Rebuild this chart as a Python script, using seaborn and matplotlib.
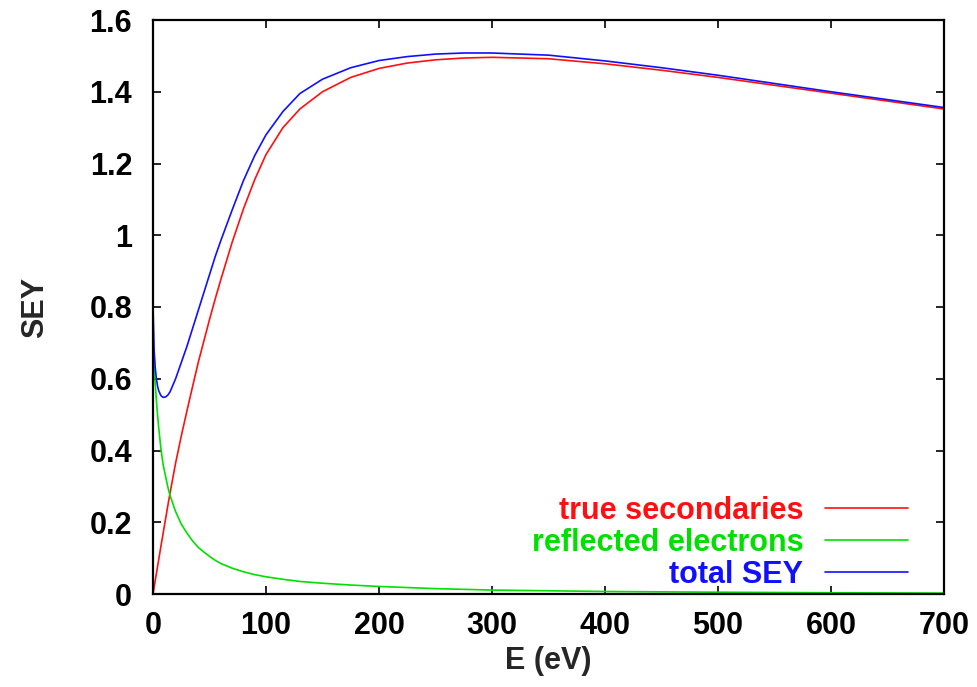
import matplotlib
matplotlib.use("Agg")
import matplotlib.pyplot as plt
import seaborn as sns
import pandas as pd

# Energies (eV) and read-off curve values
energy = [0, 1, 2, 3, 4, 5, 7, 9, 11, 13,
          15, 20, 25, 30, 35, 40, 45, 50, 55, 60,
          70, 80, 90, 100, 115, 130, 150, 175, 200, 225,
          250, 275, 300, 350, 400, 450, 500, 550, 600, 650,
          700]
true_secondaries = [0, 0.019, 0.038, 0.057, 0.076, 0.095, 0.133, 0.17, 0.207, 0.244,
                    0.28, 0.365, 0.44, 0.51, 0.578, 0.645, 0.705, 0.765, 0.822, 0.876,
                    0.98, 1.073, 1.155, 1.225, 1.30, 1.352, 1.40, 1.44, 1.465, 1.48,
                    1.489, 1.494, 1.496, 1.492, 1.478, 1.46, 1.44, 1.418, 1.396, 1.374,
                    1.352]
reflected = [0.70, 0.63, 0.585, 0.54, 0.50, 0.465, 0.405, 0.36, 0.33, 0.30,
             0.275, 0.23, 0.195, 0.17, 0.148, 0.13, 0.117, 0.105, 0.094, 0.085,
             0.072, 0.062, 0.054, 0.048, 0.041, 0.035, 0.030, 0.025, 0.021, 0.018,
             0.015, 0.013, 0.011, 0.009, 0.007, 0.006, 0.005, 0.0042, 0.0035, 0.003,
             0.0025]
total_sey = [0.80, 0.68, 0.63, 0.60, 0.58, 0.567, 0.553, 0.548, 0.549, 0.554,
             0.563, 0.60, 0.645, 0.69, 0.74, 0.79, 0.84, 0.89, 0.94, 0.985,
             1.07, 1.152, 1.222, 1.28, 1.345, 1.395, 1.435, 1.467, 1.487, 1.498,
             1.505, 1.508, 1.508, 1.502, 1.486, 1.467, 1.446, 1.423, 1.400, 1.378,
             1.356]

labels = ["true secondaries", "reflected electrons", "total SEY"]
colors = ["#ff1010", "#00e000", "#1010ff"]
x_ticks = [0, 100, 200, 300, 400, 500, 600, 700]
y_ticks = [0, 0.2, 0.4, 0.6, 0.8, 1.0, 1.2, 1.4, 1.6]
y_tick_labels = ["0", "0.2", "0.4", "0.6", "0.8", "1", "1.2", "1.4", "1.6"]

sns.set_style("ticks")
plt.rcParams["font.family"] = ["Liberation Sans", "DejaVu Sans"]
plt.rcParams["font.weight"] = "bold"

n = len(energy)
df = pd.DataFrame({
    "E": energy * 3,
    "SEY": true_secondaries + reflected + total_sey,
    "series": [labels[0]] * n + [labels[1]] * n + [labels[2]] * n,
})

W, H = 977, 687
L, R, T, B = 153, 944, 20, 594
fig = plt.figure(figsize=(W / 100, H / 100), dpi=100)
ax = fig.add_axes([L / W, 1 - B / H, (R - L) / W, (B - T) / H])

sns.lineplot(data=df, x="E", y="SEY", hue="series", hue_order=labels,
             palette=colors, linewidth=1.2, ax=ax, sort=False, estimator=None)

ax.set_xlim(0, 700)
ax.set_ylim(0, 1.6)
ax.set_xticks(x_ticks)
ax.set_xticklabels([str(t) for t in x_ticks], fontweight="bold")
ax.set_yticks(y_ticks)
ax.set_yticklabels(y_tick_labels, fontweight="bold")
ax.tick_params(direction="in", length=6, width=1.2, top=True, right=True,
               labelsize=22, colors="black")
ax.tick_params(axis="x", pad=12)
ax.tick_params(axis="y", pad=15)
for s in ax.spines.values():
    s.set_linewidth(1.6)
    s.set_color("black")

ax.set_xlabel("E (eV)", fontsize=22, fontweight="bold")
ax.set_ylabel("SEY", fontsize=22, fontweight="bold")
ax.xaxis.set_label_coords(0.5, -(646 - B) / (B - T))
ax.yaxis.set_label_coords((50 - L) / (R - L), 0.5)

leg = ax.legend(loc="lower right",
                bbox_to_anchor=((908 - L) / (R - L), -(590 - B) / (B - T)),
                frameon=False, markerfirst=False,
                prop={"size": 22, "weight": "bold"},
                handlelength=2.73, handletextpad=0.7, labelspacing=0.07,
                borderaxespad=0.0, borderpad=0.0)
for text, c in zip(leg.get_texts(), colors):
    text.set_color(c)
for line in leg.get_lines():
    line.set_linewidth(1.2)

fig.savefig("out.png", dpi=100)
